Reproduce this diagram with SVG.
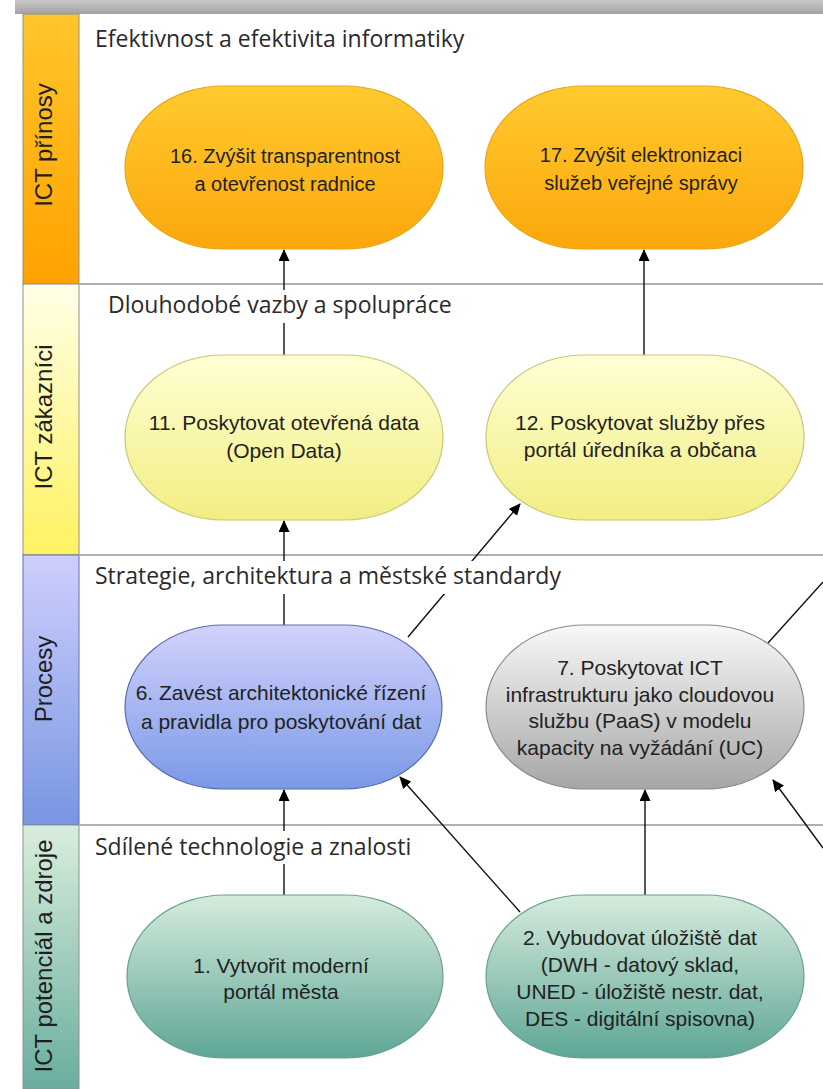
<svg xmlns="http://www.w3.org/2000/svg" width="823" height="1089" viewBox="0 0 823 1089">
<style>
.lane{stroke:#8f8f8f;stroke-width:1}
.sep{stroke:#b0b0b0;stroke-width:2}
.side{font-family:"Liberation Sans",Arial,sans-serif;font-size:24px;fill:#1e1e1e;text-anchor:middle}
.title{font-family:"Open Sans",sans-serif;font-size:23px;fill:#2a2a2a}
.nt{font-family:"Liberation Sans",Arial,sans-serif;font-size:21px;fill:#222;text-anchor:middle}
.nt20{font-size:20px}
.conn{stroke:#111;stroke-width:1.4;fill:none}
.n{stroke-width:1.2}
</style>
<defs>
<marker id="arr" markerWidth="12" markerHeight="11" refX="11" refY="5.5" orient="auto" markerUnits="userSpaceOnUse"><path d="M0,0 L12,5.5 L0,11 z" fill="#000"/></marker>
<linearGradient id="gTop" x1="0" y1="0" x2="0" y2="1"><stop offset="0" stop-color="#c9c9c9"/><stop offset="1" stop-color="#a2a2a2"/></linearGradient>
<linearGradient id="sOr" x1="0" y1="0" x2="0" y2="1"><stop offset="0" stop-color="#ffc62c"/><stop offset="1" stop-color="#ffa200"/></linearGradient>
<linearGradient id="sYe" x1="0" y1="0" x2="0" y2="1"><stop offset="0" stop-color="#ffffe8"/><stop offset="1" stop-color="#fff260"/></linearGradient>
<linearGradient id="sBl" x1="0" y1="0" x2="0" y2="1"><stop offset="0" stop-color="#cfcffc"/><stop offset="1" stop-color="#7896e2"/></linearGradient>
<linearGradient id="sGr" x1="0" y1="0" x2="0" y2="1"><stop offset="0" stop-color="#d9eedc"/><stop offset="1" stop-color="#69ad9e"/></linearGradient>
<linearGradient id="nOr" x1="0" y1="0" x2="0" y2="1"><stop offset="0" stop-color="#ffca2e"/><stop offset="1" stop-color="#fca70c"/></linearGradient>
<linearGradient id="nYe" x1="0" y1="0" x2="0" y2="1"><stop offset="0" stop-color="#ffffd4"/><stop offset="1" stop-color="#f2ee82"/></linearGradient>
<linearGradient id="nBl" x1="0" y1="0" x2="0" y2="1"><stop offset="0" stop-color="#d2d2fc"/><stop offset="1" stop-color="#7a99e6"/></linearGradient>
<linearGradient id="nGy" x1="0" y1="0" x2="0" y2="1"><stop offset="0" stop-color="#f8f8f8"/><stop offset="1" stop-color="#a6a6a6"/></linearGradient>
<linearGradient id="nGr" x1="0" y1="0" x2="0" y2="1"><stop offset="0" stop-color="#d6ecdd"/><stop offset="1" stop-color="#5ea696"/></linearGradient>
</defs>
<rect width="823" height="1089" fill="#fff"/>
<g id="lanes">
<rect x="15" y="0" width="808" height="14" fill="url(#gTop)"/>
<rect class="lane" x="23" y="14" width="56" height="270" fill="url(#sOr)"/>
<rect class="lane" x="23" y="284" width="56" height="271" fill="url(#sYe)"/>
<rect x="23" y="555" width="56" height="270" fill="url(#sBl)" stroke="#5a70b8" stroke-width="1"/>
<rect class="lane" x="23" y="825" width="56" height="264" fill="url(#sGr)"/>
<line class="sep" x1="79" y1="284" x2="823" y2="284"/>
<line class="sep" x1="79" y1="555" x2="823" y2="555"/>
<line class="sep" x1="79" y1="825" x2="823" y2="825"/>
<text class="side" transform="translate(52,145) rotate(-90)">ICT přínosy</text>
<text class="side" transform="translate(52,417) rotate(-90)">ICT zákazníci</text>
<text class="side" transform="translate(52,679) rotate(-90)">Procesy</text>
<text class="side" transform="translate(52,956) rotate(-90)">ICT potenciál a zdroje</text>
</g>
<g id="connectors">
<line class="conn" x1="284" y1="355" x2="284" y2="250" marker-end="url(#arr)"/>
<line class="conn" x1="644" y1="355" x2="644" y2="250" marker-end="url(#arr)"/>
<line class="conn" x1="284" y1="625" x2="284" y2="521" marker-end="url(#arr)"/>
<line class="conn" x1="408" y1="637" x2="520" y2="504" marker-end="url(#arr)"/>
<line class="conn" x1="284" y1="895" x2="284" y2="790" marker-end="url(#arr)"/>
<line class="conn" x1="520" y1="912" x2="400" y2="777" marker-end="url(#arr)"/>
<line class="conn" x1="645" y1="895" x2="645" y2="790" marker-end="url(#arr)"/>
<line class="conn" x1="768" y1="643" x2="823" y2="582"/>
<line class="conn" x1="823" y1="848" x2="773" y2="780" marker-end="url(#arr)"/>
</g>
<g id="titles">
<rect x="92" y="22" width="384" height="34" fill="#fff"/>
<text class="title" x="95" y="47">Efektivnost a efektivita informatiky</text>
<rect x="105" y="290" width="356" height="33" fill="#fff"/>
<text class="title" x="108" y="313">Dlouhodobé vazby a spolupráce</text>
<rect x="92" y="561" width="482" height="33" fill="#fff"/>
<text class="title" x="95" y="584">Strategie, architektura a městské standardy</text>
<rect x="92" y="831" width="326" height="33" fill="#fff"/>
<text class="title" x="95" y="855">Sdílené technologie a znalosti</text>
</g>
<g id="n16">
<rect class="n" x="125" y="86" width="318" height="163" rx="98" ry="81" fill="url(#nOr)" stroke="#e8a818"/>
<text class="nt nt20" x="285" y="163">16. Zvýšit transparentnost</text>
<text class="nt nt20" x="285" y="191">a otevřenost radnice</text>
</g>
<g id="n17">
<rect class="n" x="485" y="86" width="318" height="163" rx="98" ry="81" fill="url(#nOr)" stroke="#e8a818"/>
<text class="nt nt20" x="641" y="162">17. Zvýšit elektronizaci</text>
<text class="nt nt20" x="641" y="190">služeb veřejné správy</text>
</g>
<g id="n11">
<rect class="n" x="125" y="355" width="318" height="165" rx="98" ry="82" fill="url(#nYe)" stroke="#c9c77a"/>
<text class="nt" x="284" y="430">11. Poskytovat otevřená data</text>
<text class="nt" x="284" y="458">(Open Data)</text>
</g>
<g id="n12">
<rect class="n" x="486" y="355" width="318" height="165" rx="98" ry="82" fill="url(#nYe)" stroke="#c9c77a"/>
<text class="nt" x="640" y="430">12. Poskytovat služby přes</text>
<text class="nt" x="640" y="457">portál úředníka a občana</text>
</g>
<g id="n6">
<rect class="n" x="125" y="625" width="317" height="164" rx="98" ry="82" fill="url(#nBl)" stroke="#5a6cb0"/>
<text class="nt" x="281" y="700">6. Zavést architektonické řízení</text>
<text class="nt" x="281" y="729">a pravidla pro poskytování dat</text>
</g>
<g id="n7">
<rect class="n" x="486" y="625" width="318" height="164" rx="98" ry="82" fill="url(#nGy)" stroke="#8a8a8a"/>
<text class="nt" x="640" y="675">7. Poskytovat ICT</text>
<text class="nt" x="640" y="702">infrastrukturu jako cloudovou</text>
<text class="nt" x="640" y="728">službu (PaaS) v modelu</text>
<text class="nt" x="640" y="755">kapacity na vyžádání (UC)</text>
</g>
<g id="n1">
<rect class="n" x="127" y="895" width="316" height="163" rx="98" ry="81" fill="url(#nGr)" stroke="#6aa08f"/>
<text class="nt" x="281" y="973">1. Vytvořit moderní</text>
<text class="nt" x="281" y="999">portál města</text>
</g>
<g id="n2">
<rect class="n" x="486" y="895" width="318" height="163" rx="98" ry="81" fill="url(#nGr)" stroke="#6aa08f"/>
<text class="nt" x="640" y="945">2. Vybudovat úložiště dat</text>
<text class="nt" x="640" y="972">(DWH - datový sklad,</text>
<text class="nt" x="640" y="999">UNED - úložiště nestr. dat,</text>
<text class="nt" x="640" y="1026">DES - digitální spisovna)</text>
</g>
</svg>
